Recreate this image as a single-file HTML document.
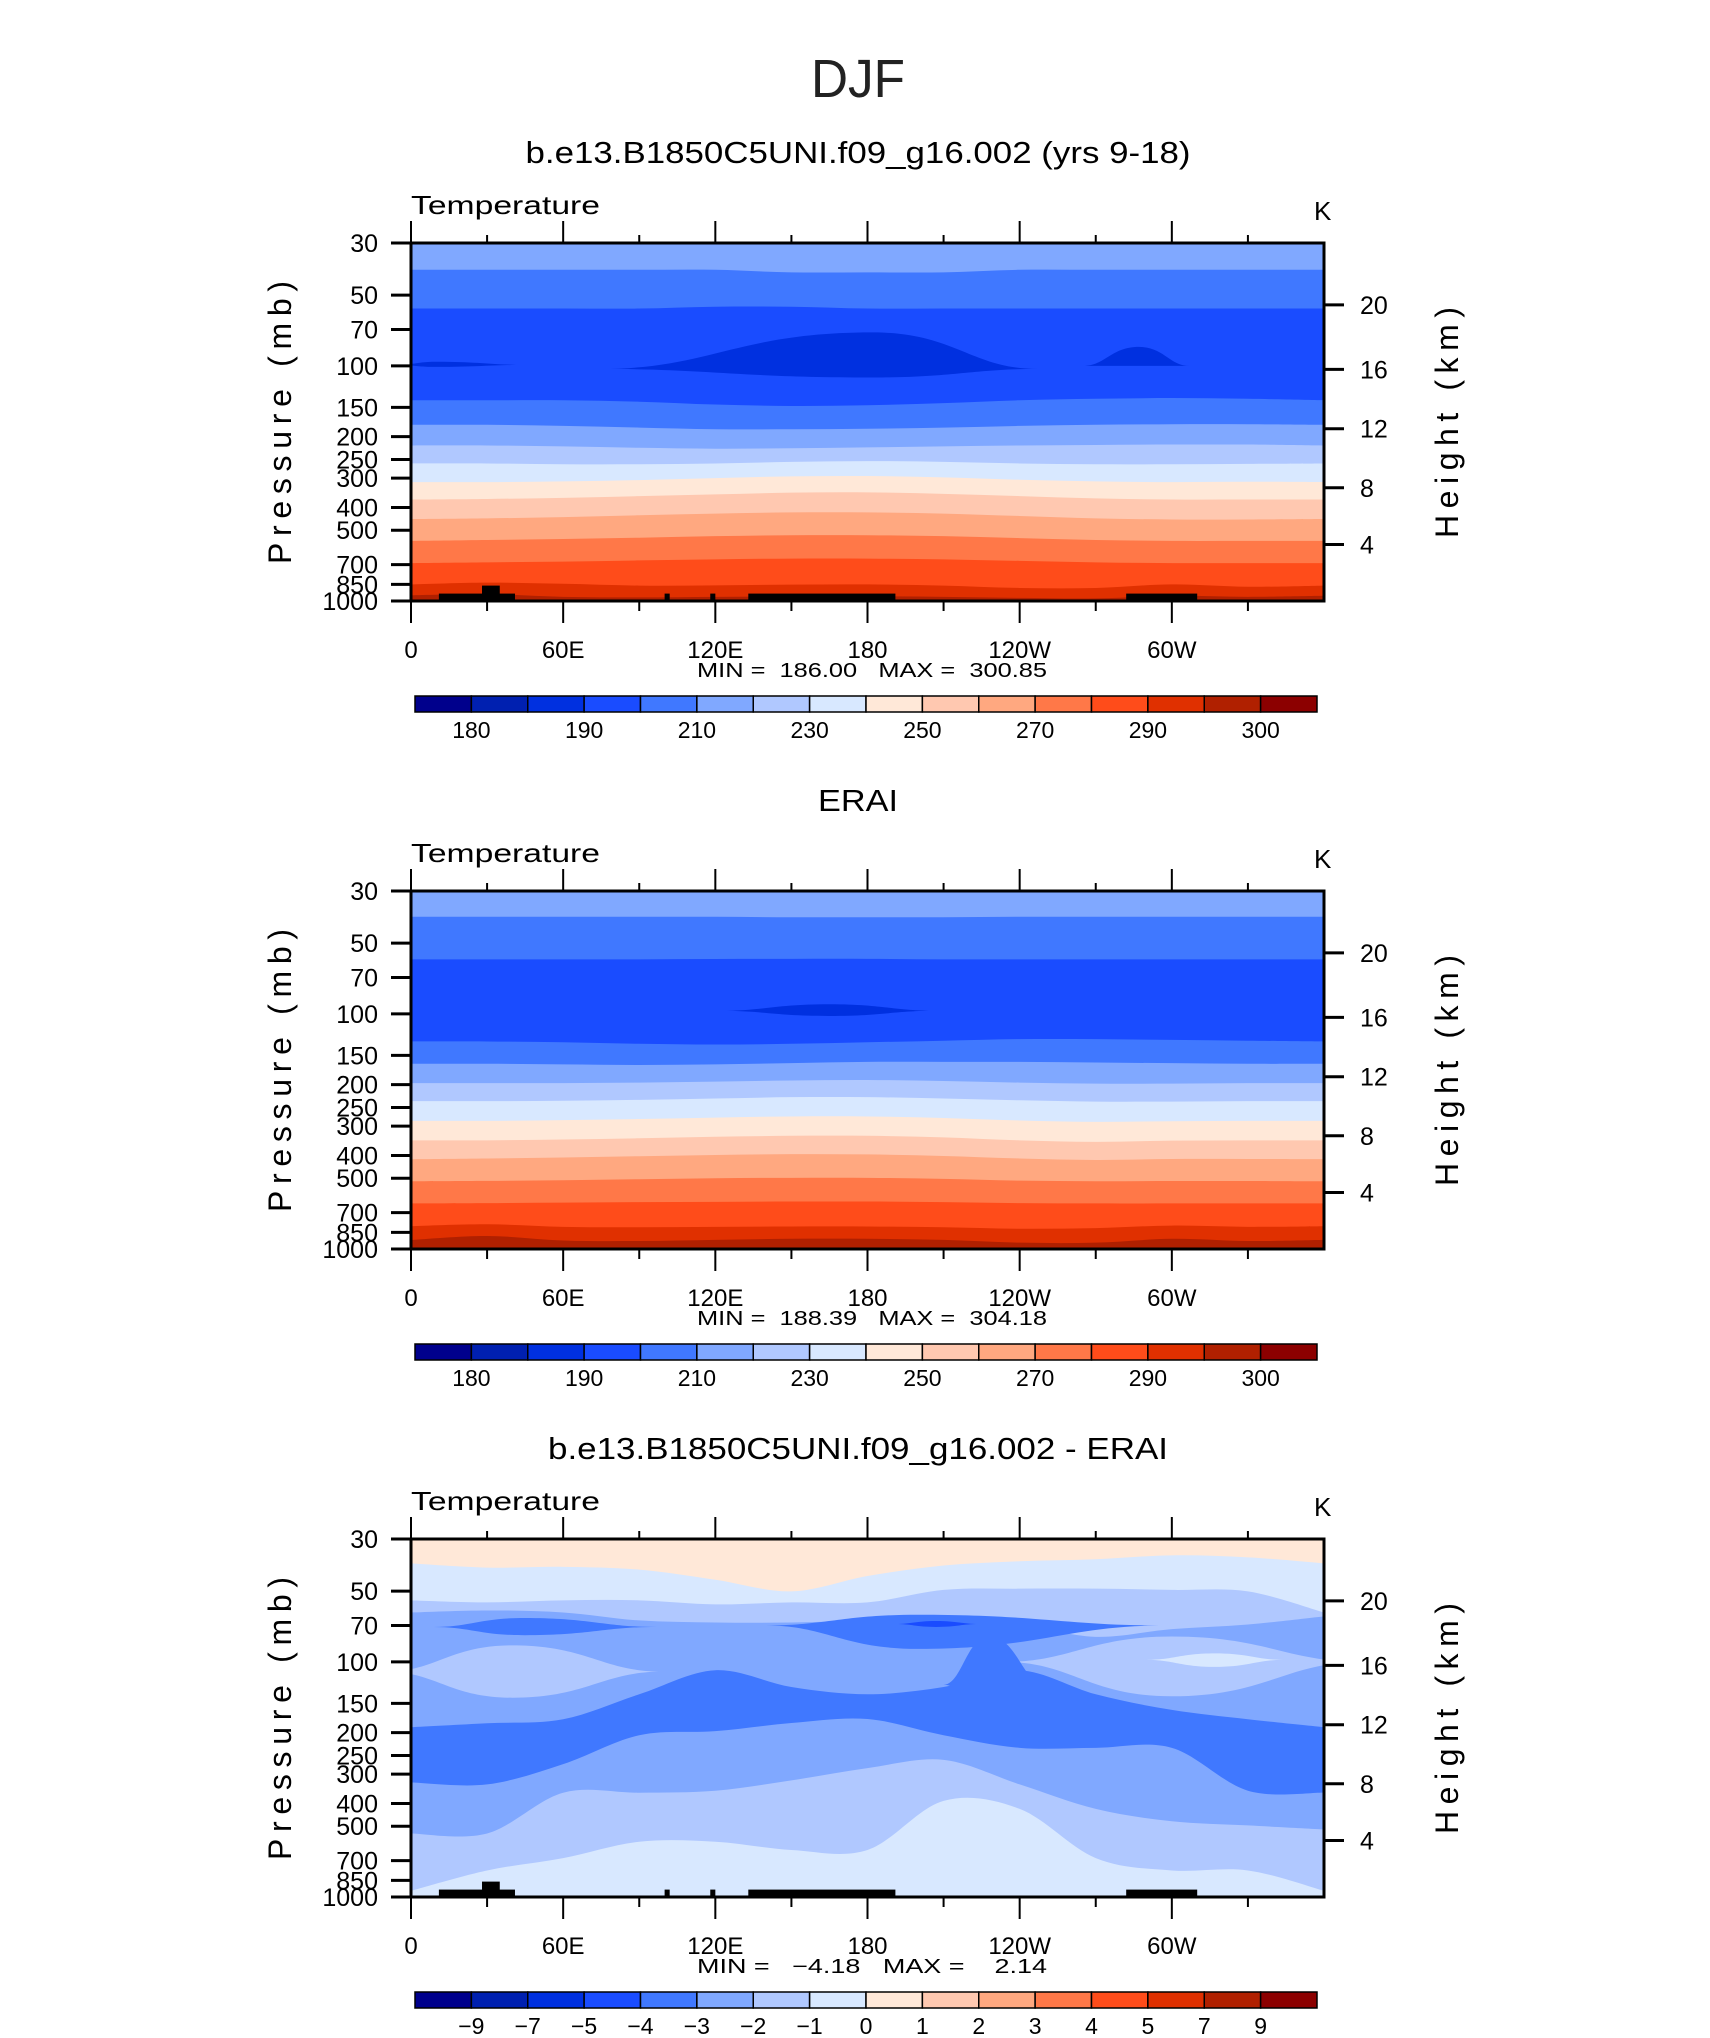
<!DOCTYPE html>
<html><head><meta charset="utf-8"><style>
html,body{margin:0;padding:0;background:#fff;}
svg{display:block;font-family:"Liberation Sans",sans-serif;}
.pre{white-space:pre;}
</style></head><body>
<svg id="fig" width="1710" height="2038" viewBox="0 0 1710 2038" xmlns="http://www.w3.org/2000/svg">
<text x="858" y="97" font-size="54" text-anchor="middle" textLength="94" lengthAdjust="spacingAndGlyphs" fill="#222">DJF</text>
</svg>
<script>
// ---- data ----
const lons = [0,30,60,90,120,150,180,210,240,270,300,330,360];
const palette = ['#00008c','#0020b0','#0030e0','#1a4cff','#4078ff','#80a8ff','#b0c8ff','#d8e8ff','#ffe8d8','#ffc8b0','#ffa880','#ff7848','#ff4c1a','#e03000','#b02000','#8c0000'];
const pressureTicks = [30,50,70,100,150,200,250,300,400,500,700,850,1000];
const heightTicks = [20,16,12,8,4];
const heightTickP = [55,103.5,185,330,575];
const lonTicks = [0,60,120,180,240,300];
const lonTickLabels = ['0','60E','120E','180','120W','60W'];
const cbLabelsAbs = ['180','190','210','230','250','270','290','300'];
const cbLabelsDiff = ['\u22129','\u22127','\u22125','\u22124','\u22123','\u22122','\u22121','0','1','2','3','4','5','7','9'];
const topoBlocks = [[11,41,930],[28,35,860],[100,102,930],[118,120,930],[133,191,930],[282,310,930]];

const p1Bg = 5;
const p1Bands = [
 [4,[39,39,39,39,39,40,40,40,39,39,39,39,39]],
 [3,[57,57,57,57,56,56,57,57,57,57,57,57,57]],
 [4,[140,140,140,142,146,148,147,144,140,138,137,138,140]],
 [5,[178,178,180,183,186,186,185,183,180,178,177,177,178]],
 [6,[218,218,220,223,225,224,222,220,218,217,216,216,218]],
 [7,[260,260,262,262,260,256,254,256,260,262,262,261,260]],
 [8,[312,312,310,306,300,295,294,298,305,310,312,311,312]],
 [9,[370,368,364,358,352,346,345,350,358,366,370,370,370]],
 [10,[448,445,440,432,425,420,420,425,435,445,450,450,448]],
 [11,[555,550,545,538,530,525,525,530,540,550,555,555,555]],
 [12,[690,685,680,672,665,660,660,665,675,685,690,690,690]],
 [13,[850,835,845,860,858,852,850,860,880,880,850,870,860]],
 [14,[945,935,960,965,960,955,955,960,970,975,950,960,950]]
];
// blobs: [color, lon0, lon1, peakLon, tipP, topP, botP]
const p1Blobs = [
 [2,75,247,182,103,72,112],
 [2,265,307,287,100,83,100],
 [2,-5,45,10,99,96,101]
];
const p2Bg = 5;
const p2Bands = [
 [4,[38.6,38.6,38.6,38.6,38.6,38.8,38.8,38.8,38.6,38.6,38.6,38.6,38.6]],
 [3,[58.6,58.6,58.6,58.6,58.4,58.3,58.3,58.6,58.6,58.6,58.6,58.6,58.6]],
 [4,[131,131,132,134,135,134,132,130,128,128,129,130,131]],
 [5,[163,163,164,165,164,162,160,160,160,161,162,163,163]],
 [6,[197,197,197,196,194,192,191,193,196,198,198,197,197]],
 [7,[235,235,234,232,229,226,226,229,233,236,236,235,235]],
 [8,[285,285,283,280,276,273,273,277,284,288,286,285,285]],
 [9,[345,345,342,338,333,330,330,335,345,350,346,345,345]],
 [10,[415,412,408,403,398,395,396,402,412,418,414,414,415]],
 [11,[515,513,510,505,500,498,498,503,512,515,514,514,515]],
 [12,[640,638,635,632,630,628,628,632,638,640,640,640,640]],
 [13,[800,785,805,808,805,802,802,808,820,815,795,805,800]],
 [14,[915,880,920,925,915,905,905,915,940,940,905,925,915]]
];
const p2Blobs = [[2,122,207,165,97,91,102]];
const p3Bg = 8;
const p3BandsUpper = [
 [7,[38.1,39.7,39.4,40.5,44.7,50.1,43.1,38.9,37.3,36.6,35.2,35.9,38.1]],
 [6,[54.7,55.8,54.7,54.7,56.9,55.8,55.8,49.4,48.8,48.8,49.4,50.1,61.6]],
 [5,[61.6,60.4,61.6,66.6,68.0,68.0,66.6,65.3,69.3,78.2,72.5,69.3,64.0]]
];
const p3BlobsMid = [
 [6,-10,99,40,110,85,142],
 [6,234,375,300,100,78,140],
 [7,290,344,317,98,92,105],
 [4,9,97,45,71,65,77],
 [4,140,297,200,70,63,88],
 [3,191,224,207,69,67,71],
 [4,210,250,228,125,78,160]
];
const p3BandsLower = [
 [4,[189.5,182.3,175.3,137.3,108.5,127.9,137.3,127.9,108.5,137.3,160,175.3,189.5]],
 [5,[325.5,332,272,205,197,182,175,205,232,232,232,353,360]],
 [6,[537,537,360,360,353,319,283,261,332,422,476,496,516]],
 [7,[941,771,683,582,582,631,631,390,422,683,771,771,941]]
];

// ---- drawing ----
const NS='http://www.w3.org/2000/svg';
const svg=document.getElementById('fig');
const L=411,R=1324,H=358;
function xS(lon){return L+lon/360*(R-L);}
function yS(p,top){return top+Math.log(p/30)/Math.log(1000/30)*H;}
function mk(tag,attrs,parent){const e=document.createElementNS(NS,tag);for(const k in attrs)e.setAttribute(k,attrs[k]);(parent||svg).appendChild(e);return e;}
function txt(s,attrs,parent){const e=mk('text',attrs,parent);e.textContent=s;return e;}

function curvePath(pts){
  let d='M'+pts[0][0]+','+pts[0][1];
  for(let i=0;i<pts.length-1;i++){
    const p0=pts[Math.max(0,i-1)],p1=pts[i],p2=pts[i+1],p3=pts[Math.min(pts.length-1,i+2)];
    const c1x=p1[0]+(p2[0]-p0[0])/6,c1y=p1[1]+(p2[1]-p0[1])/6;
    const c2x=p2[0]-(p3[0]-p1[0])/6,c2y=p2[1]-(p3[1]-p1[1])/6;
    d+=' C'+c1x+','+c1y+' '+c2x+','+c2y+' '+p2[0]+','+p2[1];
  }
  return d;
}
function drawBand(g,band,top,idx){
  const pts=lons.map((lo,i)=>[xS(lo),yS(band[1][i],top)]);
  const d=curvePath(pts)+' L'+R+','+(top+H+2)+' L'+L+','+(top+H+2)+' Z';
  const e=mk('path',{d:d,fill:palette[band[0]]},g);
  
  
}
function drawBlob(g,b,top,idx){
  const Lp=[xS(b[1]),yS(b[4],top)],Rp=[xS(b[2]),yS(b[4],top)];
  const P=[xS(b[3]),yS(b[5],top)],B=[xS(b[3]),yS(b[6],top)];
  const dl=P[0]-Lp[0],dr=Rp[0]-P[0];
  const d='M'+Lp+' C'+(Lp[0]+0.4*dl)+','+Lp[1]+' '+(P[0]-0.5*dl)+','+P[1]+' '+P+
    ' C'+(P[0]+0.5*dr)+','+P[1]+' '+(Rp[0]-0.4*dr)+','+Rp[1]+' '+Rp+
    ' C'+(Rp[0]-0.4*dr)+','+Rp[1]+' '+(P[0]+0.5*dr)+','+B[1]+' '+B+
    ' C'+(P[0]-0.5*dl)+','+B[1]+' '+(Lp[0]+0.4*dl)+','+Lp[1]+' '+Lp+' Z';
  const e=mk('path',{d:d,fill:palette[b[0]]},g);
  
  
}

function panel(n,top,title,titleLen,bg,layers,topo,minmax,cbLabels){
  const g=mk('g',{});
  
  
  const t=txt(title,{x:858,y:top-80,'font-size':31,'text-anchor':'middle',textLength:titleLen,lengthAdjust:'spacingAndGlyphs',fill:'#000'},g);
  
  
  const cid='clip'+n;
  const cp=mk('clipPath',{id:cid},g);mk('rect',{x:L,y:top,width:R-L,height:H},cp);
  const pg=mk('g',{'clip-path':'url(#'+cid+')'},g);
  
  
  mk('rect',{x:L,y:top,width:R-L,height:H,fill:palette[bg]},pg);
  let k=0;
  layers.forEach(ly=>{
    if(ly.type==='bands') ly.data.forEach(b=>drawBand(pg,b,top,k++));
    else ly.data.forEach(b=>drawBlob(pg,b,top,k++));
  });
  if(topo){
    topoBlocks.forEach((tb,i)=>{
      const y1=yS(tb[2],top);
      const e=mk('rect',{x:xS(tb[0]),y:y1,width:xS(tb[1])-xS(tb[0]),height:top+H-y1,fill:'#000'},pg);
      
      
    });
  }
  const fr=mk('rect',{x:L,y:top,width:R-L,height:H,fill:'none',stroke:'#000','stroke-width':3},g);
  
  
  for(let lo=0;lo<=330;lo+=30){
    const x=xS(lo),maj=lo%60===0;
    mk('line',{x1:x,x2:x,y1:top-(maj?22:8),y2:top,stroke:'#000','stroke-width':2},g);
    mk('line',{x1:x,x2:x,y1:top+H,y2:top+H+(maj?22:10),stroke:'#000','stroke-width':2},g);
  }
  lonTicks.forEach((lo,i)=>{
    const e=txt(lonTickLabels[i],{x:xS(lo),y:top+H+57,'font-size':24,'text-anchor':'middle'},g);
    
    
  });
  pressureTicks.forEach(p=>{
    const y=yS(p,top);
    mk('line',{x1:L-20,x2:L,y1:y,y2:y,stroke:'#000','stroke-width':3},g);
    const e=txt(String(p),{x:378,y:y+9,'font-size':25,'text-anchor':'end'},g);
    
    
  });
  heightTicks.forEach((h,i)=>{
    const y=yS(heightTickP[i],top);
    mk('line',{x1:R,x2:R+20,y1:y,y2:y,stroke:'#000','stroke-width':3},g);
    const e=txt(String(h),{x:1360,y:y+9,'font-size':25},g);
    
    
  });
  const cy=top+179;
  let e=txt('Pressure (mb)',{x:291,y:cy+142,'font-size':32,textLength:283,lengthAdjust:'spacing',transform:'rotate(-90 291 '+(cy+142)+')'},g);
  
  
  e=txt('Height (km)',{x:1458,y:cy+116,'font-size':32,textLength:231,lengthAdjust:'spacing',transform:'rotate(-90 1458 '+(cy+116)+')'},g);
  
  
  e=txt('Temperature',{x:411,y:top-29,'font-size':26,textLength:189,lengthAdjust:'spacingAndGlyphs'},g);
  
  
  e=txt('K',{x:1314,y:top-23,'font-size':26},g);
  
  
  e=txt(minmax,{x:872,y:top+H+76,'font-size':20,'text-anchor':'middle','class':'pre',textLength:350,lengthAdjust:'spacingAndGlyphs'},g);
  
  
  const cbT=top+453,cbL=415,cbW=(1317-415)/16;
  const cb=mk('g',{},g);
  
  
  palette.forEach((c,i)=>{
    const r=mk('rect',{x:cbL+i*cbW,y:cbT,width:cbW,height:16,fill:c,stroke:'#000','stroke-width':1.5},cb);
    
    
  });
  const step=cbLabels.length===15?1:2;
  cbLabels.forEach((s,i)=>{
    const xb=cbL+cbW*(1+i*step);
    const t2=txt(s,{x:xb,y:cbT+42,'font-size':23,'text-anchor':'middle'},cb);
    
    
  });
}
panel(1,243,'b.e13.B1850C5UNI.f09_g16.002 (yrs 9-18)',665,p1Bg,
  [{type:'bands',data:p1Bands},{type:'blobs',data:p1Blobs}],true,
  'MIN =  186.00   MAX =  300.85',cbLabelsAbs);
panel(2,891,'ERAI',80,p2Bg,
  [{type:'bands',data:p2Bands},{type:'blobs',data:p2Blobs}],false,
  'MIN =  188.39   MAX =  304.18',cbLabelsAbs);
panel(3,1539,'b.e13.B1850C5UNI.f09_g16.002 - ERAI',620,p3Bg,
  [{type:'bands',data:p3BandsUpper},{type:'blobs',data:p3BlobsMid},{type:'bands',data:p3BandsLower}],true,
  'MIN =   \u22124.18   MAX =    2.14',cbLabelsDiff);
</script>
</body></html>
